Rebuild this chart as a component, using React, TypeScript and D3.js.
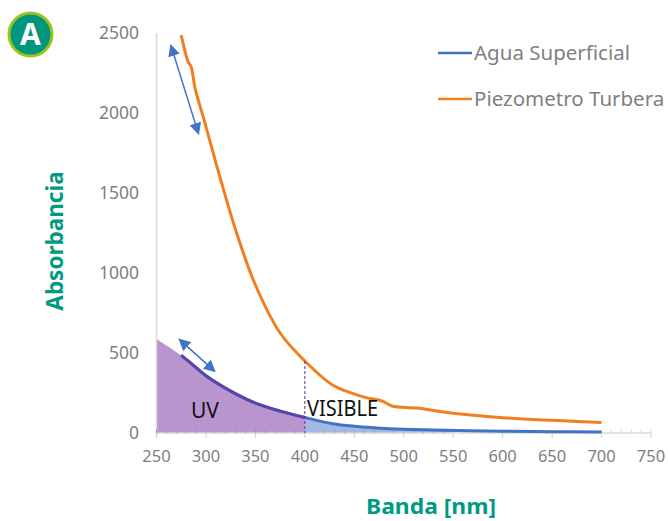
import React, { useRef, useEffect } from 'react';
import * as d3 from 'd3';

const waveAgua = [275, 285, 300, 325, 350, 375, 400, 428, 450, 486, 530, 600, 650, 700];
const agua = [485, 435, 358, 262, 187, 137, 97, 58, 42, 27, 19, 11, 8, 6];

const wavePiezo = [275, 282, 285, 289, 299, 315, 331, 350, 375, 400, 428, 446, 462, 478, 488, 513, 540, 557, 600, 650, 700];
const piezo = [2487, 2320, 2289, 2156, 1937, 1581, 1250, 925, 625, 450, 300, 252, 221, 200, 169, 156, 131, 119, 96, 79, 65];

// area under the blue curve, extended back to the axis
const waveUv = [250, 275, 285, 300, 325, 350, 375, 400];
const uv = [588, 485, 435, 358, 262, 187, 137, 97];
const waveVis = [400, 428, 450, 486, 530, 550];
const vis = [97, 58, 42, 27, 19, 15];

const xTicks = [250, 300, 350, 400, 450, 500, 550, 600, 650, 700, 750];
const yTicks = [0, 500, 1000, 1500, 2000, 2500];
const seriesNames = ['Agua Superficial', 'Piezometro Turbera'];

const upperArrow = [[264.5, 2424], [292.5, 1870]];
const lowerArrow = [[273, 585], [309, 385]];

const FONT = '"Noto Sans", "Open Sans", sans-serif';
const BLUE = '#4472c4';
const ORANGE = '#f07f1e';
const TEAL = '#009A82';

const App = () => {
  const svgRef = useRef<SVGSVGElement>(null);

  useEffect(() => {
    const svg = d3.select(svgRef.current);
    svg.selectAll('*').remove();

    const x = d3.scaleLinear().domain([250, 750]).range([156.5, 651]);
    const y = d3.scaleLinear().domain([0, 2500]).range([433, 33]);

    const defs = svg.append('defs');
    defs
      .append('marker')
      .attr('id', 'head')
      .attr('viewBox', '0 0 10 10')
      .attr('refX', 9)
      .attr('refY', 5)
      .attr('markerWidth', 12)
      .attr('markerHeight', 12)
      .attr('markerUnits', 'userSpaceOnUse')
      .attr('orient', 'auto-start-reverse')
      .append('path')
      .attr('d', 'M0,0L10,5L0,10Z')
      .attr('fill', BLUE);

    const pairs = (w: number[], v: number[]) => w.map((d, i) => [d, v[i]] as [number, number]);

    // Shaded areas
    const area = d3
      .area<[number, number]>()
      .x((d) => x(d[0]))
      .y0(y(0))
      .y1((d) => y(d[1]))
      .curve(d3.curveCatmullRom.alpha(0.5));

    svg.append('path').attr('fill', '#b995d0').attr('d', area(pairs(waveUv, uv)));
    svg.append('path').attr('fill', '#a3b9e4').attr('d', area(pairs(waveVis, vis)));

    // Axes
    const axisColor = '#d9d9d9';
    svg
      .append('line')
      .attr('x1', x(250))
      .attr('x2', x(250))
      .attr('y1', y(2500))
      .attr('y2', y(0) + 4)
      .attr('stroke', axisColor)
      .attr('stroke-width', 1.5);
    svg
      .append('line')
      .attr('x1', x(250))
      .attr('x2', x(750))
      .attr('y1', y(0))
      .attr('y2', y(0))
      .attr('stroke', axisColor)
      .attr('stroke-width', 1.5);

    // minor ticks point up, major ticks point down
    d3.range(250, 751, 10).forEach((t) => {
      svg
        .append('line')
        .attr('x1', x(t))
        .attr('x2', x(t))
        .attr('y1', y(0) - 3.5)
        .attr('y2', y(0))
        .attr('stroke', t < 400 ? '#a688bd' : t < 550 ? '#8fa8da' : axisColor)
        .attr('stroke-width', 1);
    });
    xTicks.forEach((t) => {
      svg
        .append('line')
        .attr('x1', x(t))
        .attr('x2', x(t))
        .attr('y1', y(0))
        .attr('y2', y(0) + 5)
        .attr('stroke', axisColor)
        .attr('stroke-width', 1.2);
      svg
        .append('text')
        .attr('x', x(t))
        .attr('y', 462)
        .attr('text-anchor', 'middle')
        .attr('font-size', 16.5)
        .attr('fill', '#7f7f7f')
        .text(t);
    });
    yTicks.forEach((t) => {
      svg
        .append('text')
        .attr('x', 139)
        .attr('y', y(t) + 6)
        .attr('text-anchor', 'end')
        .attr('font-size', 17.5)
        .attr('fill', '#7f7f7f')
        .text(t);
    });

    // Curves
    const line = d3
      .line<[number, number]>()
      .x((d) => x(d[0]))
      .y((d) => y(d[1]))
      .curve(d3.curveCatmullRom.alpha(0.5));

    svg
      .append('path')
      .attr('fill', 'none')
      .attr('stroke', BLUE)
      .attr('stroke-width', 3)
      .attr('d', line(pairs(waveAgua, agua)));
    svg
      .append('path')
      .attr('fill', 'none')
      .attr('stroke', '#5b45a8')
      .attr('stroke-width', 3)
      .attr('d', line(pairs(waveAgua.filter((d) => d <= 400), agua)));
    svg
      .append('path')
      .attr('fill', 'none')
      .attr('stroke', ORANGE)
      .attr('stroke-width', 3)
      .attr('d', line(pairs(wavePiezo, piezo)));

    // UV / visible divider
    svg
      .append('line')
      .attr('x1', x(400))
      .attr('x2', x(400))
      .attr('y1', y(450))
      .attr('y2', y(0))
      .attr('stroke', '#5a2d91')
      .attr('stroke-width', 1)
      .attr('stroke-dasharray', '3 2');

    svg
      .append('text')
      .attr('x', 191)
      .attr('y', 418)
      .attr('font-size', 21)
      .attr('fill', '#111')
      .text('UV');
    svg
      .append('text')
      .attr('x', 307)
      .attr('y', 415.5)
      .attr('font-size', 21)
      .attr('fill', '#111')
      .attr('textLength', 71)
      .attr('lengthAdjust', 'spacingAndGlyphs')
      .text('VISIBLE');

    // Double headed arrows
    [upperArrow, lowerArrow].forEach((a) => {
      svg
        .append('line')
        .attr('x1', x(a[0][0]))
        .attr('y1', y(a[0][1]))
        .attr('x2', x(a[1][0]))
        .attr('y2', y(a[1][1]))
        .attr('stroke', BLUE)
        .attr('stroke-width', 1.5)
        .attr('marker-start', 'url(#head)')
        .attr('marker-end', 'url(#head)');
    });

    // Legend
    [BLUE, ORANGE].forEach((c, i) => {
      const ly = 53 + i * 46;
      svg
        .append('line')
        .attr('x1', 438)
        .attr('x2', 472)
        .attr('y1', ly)
        .attr('y2', ly)
        .attr('stroke', c)
        .attr('stroke-width', 2.5);
      svg
        .append('text')
        .attr('x', 474)
        .attr('y', ly + 7)
        .attr('font-size', 20.5)
        .attr('fill', '#7f7f7f')
        .text(seriesNames[i]);
    });

    // Axis titles
    svg
      .append('text')
      .attr('transform', 'translate(63,241) rotate(-90)')
      .attr('text-anchor', 'middle')
      .attr('font-size', 22.5)
      .attr('font-weight', 700)
      .attr('fill', TEAL)
      .text('Absorbancia');
    svg
      .append('text')
      .attr('x', 431)
      .attr('y', 514)
      .attr('text-anchor', 'middle')
      .attr('font-size', 22)
      .attr('font-weight', 700)
      .attr('fill', TEAL)
      .attr('textLength', 130)
      .attr('lengthAdjust', 'spacingAndGlyphs')
      .text('Banda [nm]');

    // Panel badge
    svg
      .append('circle')
      .attr('cx', 30.5)
      .attr('cy', 34.5)
      .attr('r', 21.5)
      .attr('fill', '#00957c')
      .attr('stroke', '#9bc31c')
      .attr('stroke-width', 3);
    svg
      .append('text')
      .attr('x', 30.5)
      .attr('y', 45)
      .attr('text-anchor', 'middle')
      .attr('font-size', 30)
      .attr('font-weight', 700)
      .attr('fill', '#fff')
      .text('A');
  }, []);

  return (
    <svg
      ref={svgRef}
      width={668}
      height={521}
      style={{ position: 'absolute', left: 0, top: 0, fontFamily: FONT }}
    />
  );
};

export default App;
